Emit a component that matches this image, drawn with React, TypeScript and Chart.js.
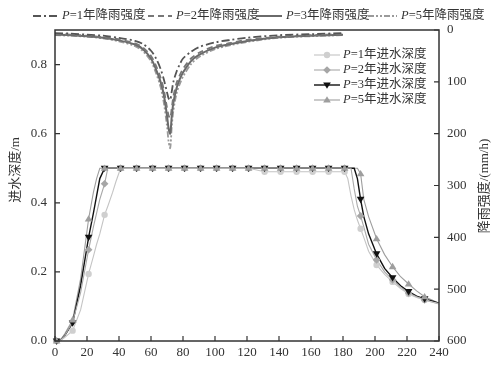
import React, { useEffect, useRef } from 'react';
import { Chart, registerables } from 'chart.js';

Chart.register(...registerables);

// ---- Rainfall intensity (mm/h), right axis (reversed) ----
const rainTime = [0, 10, 20, 30, 40, 50, 55, 60, 63, 66, 68, 70, 71, 72, 73, 74, 76, 78, 80, 85, 90, 100, 110, 120, 140, 160, 180];
const rainP1 = [6, 7, 9, 11, 15, 21, 27, 40, 54, 75, 95, 120, 132, 135, 118, 100, 80, 66, 55, 42, 33, 24, 19, 15, 10, 8, 6];
const rainP2 = [8, 9, 11, 14, 18, 26, 34, 50, 68, 92, 115, 150, 165, 170, 150, 128, 102, 87, 75, 55, 44, 31, 25, 19, 13, 10, 8];
const rainP3 = [9, 10, 12, 15, 20, 28, 37, 55, 75, 100, 125, 165, 190, 200, 165, 140, 112, 95, 82, 60, 48, 34, 27, 21, 14, 11, 9];
const rainP5 = [10, 11, 13, 16, 22, 31, 41, 60, 82, 110, 140, 185, 215, 228, 185, 155, 122, 104, 90, 66, 52, 37, 29, 23, 15, 12, 10];

// ---- Inflow depth (m), left axis ----
const depthTime = [1, 3, 6, 11, 16, 21, 24, 26, 28, 31, 33, 36, 38, 41, 51, 61, 71, 81, 91, 101, 111, 121, 131, 141, 151, 161, 171, 181, 183, 185, 187, 189, 191, 193, 196, 201, 206, 211, 216, 221, 226, 231, 236, 240];
const depthP1 = [0, 0, 0.01, 0.03, 0.09, 0.194, 0.245, 0.28, 0.31, 0.365, 0.39, 0.43, 0.46, 0.5, 0.5, 0.5, 0.5, 0.5, 0.5, 0.5, 0.5, 0.5, 0.49, 0.49, 0.49, 0.49, 0.49, 0.49, 0.47, 0.42, 0.38, 0.35, 0.325, 0.3, 0.26, 0.22, 0.193, 0.171, 0.152, 0.136, 0.126, 0.119, 0.113, 0.108];
const depthP2 = [0, 0, 0.015, 0.055, 0.14, 0.264, 0.33, 0.37, 0.41, 0.455, 0.5, 0.5, 0.5, 0.5, 0.5, 0.5, 0.5, 0.5, 0.5, 0.5, 0.5, 0.5, 0.5, 0.5, 0.5, 0.5, 0.5, 0.5, 0.5, 0.5, 0.44, 0.39, 0.362, 0.33, 0.28, 0.235, 0.2, 0.177, 0.156, 0.139, 0.128, 0.119, 0.112, 0.107];
const depthP3 = [0, 0, 0.015, 0.052, 0.16, 0.3, 0.37, 0.42, 0.47, 0.5, 0.5, 0.5, 0.5, 0.5, 0.5, 0.5, 0.5, 0.5, 0.5, 0.5, 0.5, 0.5, 0.5, 0.5, 0.5, 0.5, 0.5, 0.5, 0.5, 0.5, 0.5, 0.47, 0.41, 0.36, 0.31, 0.252, 0.21, 0.183, 0.16, 0.143, 0.13, 0.122, 0.115, 0.109];
const depthP5 = [0, 0, 0.02, 0.061, 0.18, 0.353, 0.43, 0.47, 0.5, 0.5, 0.5, 0.5, 0.5, 0.5, 0.5, 0.5, 0.5, 0.5, 0.5, 0.5, 0.5, 0.5, 0.5, 0.5, 0.5, 0.5, 0.5, 0.5, 0.5, 0.5, 0.5, 0.5, 0.484, 0.41, 0.36, 0.296, 0.25, 0.215, 0.186, 0.165, 0.145, 0.128, 0.118, 0.11];

const rainNames = ['1', '2', '3', '5'];
const rainSuffix = '年降雨强度';
const depthSuffix = '年进水深度';
const leftTitle = '进水深度/m';
const rightTitle = '降雨强度/(mm/h)';

const SERIF = '"Liberation Serif", "DejaVu Serif", "Noto Sans CJK SC", serif';

const rainStyles = [
  { color: '#555555', dash: [8, 3, 2, 3], width: 1.8 },
  { color: '#777777', dash: [6, 4], width: 1.8 },
  { color: '#6a6a6a', dash: [], width: 2 },
  { color: '#9a9a9a', dash: [6, 2, 2, 2, 2, 2], width: 1.8 },
];
const depthStyles = [
  { color: '#c4c4c4', fill: '#cfcfcf', marker: 'circle' },
  { color: '#a8a8a8', fill: '#a6a6a6', marker: 'diamond' },
  { color: '#111111', fill: '#111111', marker: 'tdown' },
  { color: '#9e9e9e', fill: '#9e9e9e', marker: 'tup' },
];

function drawMarker(ctx: CanvasRenderingContext2D, kind: string, x: number, y: number, r: number, fill: string) {
  ctx.save();
  ctx.fillStyle = fill;
  ctx.beginPath();
  if (kind === 'circle') {
    ctx.arc(x, y, r, 0, Math.PI * 2);
  } else if (kind === 'diamond') {
    ctx.moveTo(x, y - r * 1.2); ctx.lineTo(x + r * 1.2, y); ctx.lineTo(x, y + r * 1.2); ctx.lineTo(x - r * 1.2, y);
  } else if (kind === 'tdown') {
    ctx.moveTo(x - r * 1.2, y - r * 0.8); ctx.lineTo(x + r * 1.2, y - r * 0.8); ctx.lineTo(x, y + r * 1.2);
  } else {
    ctx.moveTo(x - r * 1.2, y + r * 0.8); ctx.lineTo(x + r * 1.2, y + r * 0.8); ctx.lineTo(x, y - r * 1.2);
  }
  ctx.closePath();
  ctx.fill();
  ctx.restore();
}

function drawLabel(ctx: CanvasRenderingContext2D, x: number, y: number, num: string, suffix: string, size: number) {
  ctx.textBaseline = 'middle';
  ctx.textAlign = 'left';
  ctx.fillStyle = '#333';
  ctx.font = `italic ${size}px ${SERIF}`;
  ctx.fillText('P', x, y);
  const w = ctx.measureText('P').width;
  ctx.font = `${size}px ${SERIF}`;
  ctx.fillText('=' + num + suffix, x + w, y);
}

const decoPlugin = {
  id: 'deco',
  afterDraw(chart: any) {
    const { ctx, chartArea: a, scales } = chart;
    ctx.save();
    // frame
    ctx.strokeStyle = '#333';
    ctx.lineWidth = 1.5;
    ctx.setLineDash([]);
    ctx.strokeRect(a.left, a.top, a.right - a.left, a.bottom - a.top);
    // inward ticks
    ctx.lineWidth = 1.2;
    ctx.beginPath();
    scales.x.ticks.forEach((t: any) => {
      const px = scales.x.getPixelForValue(t.value);
      ctx.moveTo(px, a.bottom); ctx.lineTo(px, a.bottom - 5);
    });
    scales.y.ticks.forEach((t: any) => {
      const py = scales.y.getPixelForValue(t.value);
      ctx.moveTo(a.left, py); ctx.lineTo(a.left + 5, py);
    });
    scales.y2.ticks.forEach((t: any) => {
      const py = scales.y2.getPixelForValue(t.value);
      ctx.moveTo(a.right, py); ctx.lineTo(a.right - 5, py);
    });
    ctx.stroke();

    // axis titles
    ctx.fillStyle = '#333';
    ctx.font = `13px ${SERIF}`;
    ctx.textAlign = 'center';
    ctx.textBaseline = 'middle';
    ctx.save();
    ctx.translate(16, 170);
    ctx.rotate(-Math.PI / 2);
    ctx.fillText(leftTitle, 0, 0);
    ctx.restore();
    ctx.save();
    ctx.translate(485, 186);
    ctx.rotate(-Math.PI / 2);
    ctx.fillText(rightTitle, 0, 0);
    ctx.restore();

    // top legend (rainfall)
    const lx0 = [33, 148, 257, 368];
    const lx1 = [58, 172, 282, 397];
    const ly = 16;
    rainNames.forEach((n, i) => {
      const s = rainStyles[i];
      ctx.save();
      ctx.strokeStyle = s.color;
      ctx.lineWidth = s.width;
      ctx.setLineDash(s.dash);
      ctx.beginPath();
      ctx.moveTo(lx0[i], ly); ctx.lineTo(lx1[i], ly);
      ctx.stroke();
      ctx.restore();
      drawLabel(ctx, lx1[i] + 4, ly, n, rainSuffix, 12.5);
    });

    // inner legend (depth)
    const rows = [55, 70, 85, 100];
    rainNames.forEach((n, i) => {
      const s = depthStyles[i];
      const y = rows[i];
      ctx.save();
      ctx.strokeStyle = s.color;
      ctx.lineWidth = i === 2 ? 1.4 : 1.1;
      ctx.setLineDash([]);
      ctx.beginPath();
      ctx.moveTo(314, y); ctx.lineTo(340, y);
      ctx.stroke();
      ctx.restore();
      drawMarker(ctx, s.marker, 327, y, 3.2, s.fill);
      drawLabel(ctx, 343, y, n, depthSuffix, 12.5);
    });
    ctx.restore();
  },
};

const markerPlugin = {
  id: 'depthMarkers',
  afterDatasetsDraw(chart: any) {
    const { ctx } = chart;
    depthStyles.forEach((s, i) => {
      const meta = chart.getDatasetMeta(4 + i);
      meta.data.forEach((el: any, j: number) => {
        const t = depthTime[j];
        if ((t - 1) % 10 === 0) drawMarker(ctx, s.marker, el.x, el.y, 3.2, s.fill);
      });
    });
  },
};

export default function App() {
  const ref = useRef<HTMLCanvasElement | null>(null);
  useEffect(() => {
    if (!ref.current) return;
    const rainSeries = [rainP1, rainP2, rainP3, rainP5];
    const depthSeries = [depthP1, depthP2, depthP3, depthP5];
    const datasets: any[] = [];
    rainSeries.forEach((arr, i) => {
      const s = rainStyles[i];
      datasets.push({
        label: 'P=' + rainNames[i] + rainSuffix,
        data: rainTime.map((t, k) => ({ x: t, y: arr[k] })),
        yAxisID: 'y2',
        borderColor: s.color,
        borderWidth: s.width,
        borderDash: s.dash,
        pointRadius: 0,
        tension: 0.3,
        fill: false,
      });
    });
    depthSeries.forEach((arr, i) => {
      const s = depthStyles[i];
      datasets.push({
        label: 'P=' + rainNames[i] + depthSuffix,
        data: depthTime.map((t, k) => ({ x: t, y: arr[k] })),
        yAxisID: 'y',
        borderColor: s.color,
        borderWidth: i === 2 ? 1.4 : 1.1,
        pointRadius: 0,
        tension: 0,
        fill: false,
      });
    });

    const tickFont = { family: SERIF, size: 13 };
    const chart = new Chart(ref.current, {
      type: 'line',
      data: { datasets },
      plugins: [markerPlugin, decoPlugin],
      options: {
        animation: false,
        responsive: false,
        maintainAspectRatio: false,
        devicePixelRatio: 1,
        events: [],
        layout: { padding: { top: 30, left: 0, right: 0, bottom: 0 } },
        plugins: { legend: { display: false }, tooltip: { enabled: false } },
        scales: {
          x: {
            type: 'linear',
            min: 0,
            max: 240,
            ticks: { stepSize: 20, color: '#333', font: tickFont, padding: 4, maxRotation: 0 },
            grid: { display: false, drawTicks: false },
            border: { display: false },
            afterFit: (s: any) => { s.height = 25; },
          },
          y: {
            type: 'linear',
            position: 'left',
            min: 0,
            max: 0.9,
            ticks: { stepSize: 0.2, color: '#333', font: tickFont, padding: 8, callback: (v: any) => Number(v).toFixed(1) },
            afterBuildTicks: (s: any) => { s.ticks = s.ticks.filter((t: any) => t.value <= 0.8 + 1e-9); },
            grid: { display: false, drawTicks: false },
            border: { display: false },
            afterFit: (s: any) => { s.width = 55; },
          },
          y2: {
            type: 'linear',
            position: 'right',
            reverse: true,
            min: 0,
            max: 600,
            ticks: { stepSize: 100, color: '#333', font: tickFont, padding: 8 },
            grid: { display: false, drawTicks: false },
            border: { display: false },
            afterFit: (s: any) => { s.width = 60; },
          },
        },
      },
    } as any);
    return () => chart.destroy();
  }, []);

  return (
    <div style={{ position: 'fixed', left: 0, top: 0, width: 499, height: 366, background: '#fff' }}>
      <canvas ref={ref} width={499} height={366} style={{ display: 'block' }} />
    </div>
  );
}
